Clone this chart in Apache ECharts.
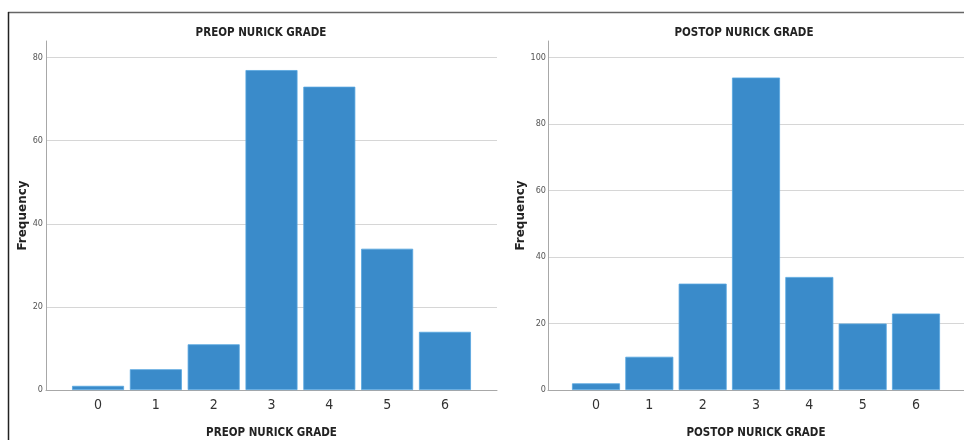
<!DOCTYPE html>
<html>
<head>
<meta charset="utf-8">
<script src="https://cdn.jsdelivr.net/npm/echarts@6/dist/echarts.min.js"></script>
<style>
html,body{margin:0;padding:0;background:#fff;}
#c{width:964px;height:440px;}
</style>
</head>
<body>
<div id="c"></div>
<script>
var grades = [0, 1, 2, 3, 4, 5, 6];
var preopFreq = [1, 5, 11, 77, 73, 34, 14];
var postopFreq = [2, 10, 32, 94, 34, 20, 23];
var preopTitle = 'PREOP NURICK GRADE';
var postopTitle = 'POSTOP NURICK GRADE';
var yName = 'Frequency';

function pairs(xs, ys) { return xs.map(function (x, i) { return [x, ys[i]]; }); }

var font = '"DejaVu Sans Condensed", "Liberation Sans Narrow", sans-serif';
var barColor = '#3a8bca';

function xAxisCfg(gi, name) {
  return {
    type: 'value', gridIndex: gi, min: -0.9, max: 6.9,
    name: name, nameLocation: 'middle', nameGap: 37,
    nameTextStyle: { fontFamily: font, fontWeight: 'bold', fontSize: 11.5, color: '#222' },
    axisLine: { show: true, lineStyle: { color: '#a8a8a8', width: 1 } },
    axisTick: { show: false },
    splitLine: { show: false },
    axisLabel: { customValues: grades, margin: 8, fontFamily: font, fontSize: 14, color: '#333' }
  };
}
function yAxisCfg(gi, max, margin) {
  return {
    type: 'value', gridIndex: gi, min: 0, max: max, interval: 20,
    name: yName, nameLocation: 'middle', nameRotate: 90, nameGap: gi === 0 ? 14 : 16,
    nameTextStyle: { fontFamily: '"DejaVu Sans", sans-serif', fontWeight: 'bold', fontSize: 12, color: '#222' },
    axisLine: { show: true, onZero: false, lineStyle: { color: '#a8a8a8', width: 1 } },
    axisTick: { show: false },
    splitLine: { show: true, showMaxLine: false, lineStyle: { color: '#d6d6d6', width: 1 } },
    axisLabel: {
      margin: margin, fontFamily: font, fontSize: 9, color: '#555',
      formatter: function (v) { return v % 20 === 0 ? String(v) : ''; }
    }
  };
}

var chart = echarts.init(document.getElementById('c'), null, { renderer: 'canvas' });
chart.setOption({
  backgroundColor: '#fff',
  animation: false,
  title: [
    { text: preopTitle, left: 256, top: 22, textAlign: 'center', textStyle: { fontFamily: font, fontWeight: 'bold', fontSize: 11.5, color: '#222' } },
    { text: postopTitle, left: 739, top: 22, textAlign: 'center', textStyle: { fontFamily: font, fontWeight: 'bold', fontSize: 11.5, color: '#222' } }
  ],
  grid: [
    { left: 46, top: 41, width: 451, bottom: 50, containLabel: false, outerBoundsMode: 'none' },
    { left: 548, top: 41, right: 0, bottom: 50, containLabel: false, outerBoundsMode: 'none' }
  ],
  xAxis: [xAxisCfg(0, preopTitle), xAxisCfg(1, postopTitle)],
  yAxis: [yAxisCfg(0, 84, 3), yAxisCfg(1, 105, 2)],
  series: [
    { type: 'bar', xAxisIndex: 0, yAxisIndex: 0, data: pairs(grades, preopFreq), barWidth: 52,
      itemStyle: { color: barColor, borderColor: '#57a6e0', borderWidth: 0.8 } },
    { type: 'bar', xAxisIndex: 1, yAxisIndex: 1, data: pairs(grades, postopFreq), barWidth: 48,
      itemStyle: { color: barColor, borderColor: '#57a6e0', borderWidth: 0.8 } }
  ],
  graphic: [
    { type: 'line', shape: { x1: 8, y1: 12.5, x2: 964, y2: 12.5 }, style: { stroke: '#666', lineWidth: 1.5 } },
    { type: 'line', shape: { x1: 8.5, y1: 12, x2: 8.5, y2: 440 }, style: { stroke: '#222', lineWidth: 1.5 } }
  ]
});
</script>
</body>
</html>
